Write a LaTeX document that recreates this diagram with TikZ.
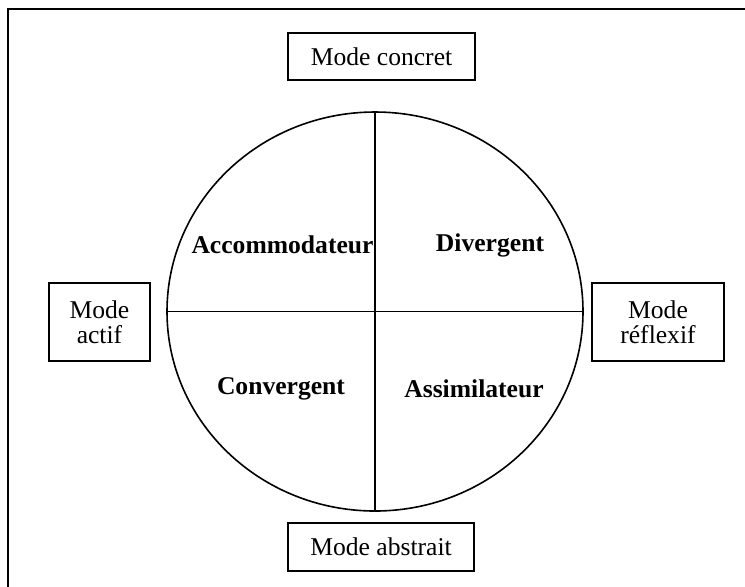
\documentclass[tikz,border=0pt]{standalone}
\usepackage{fontspec}
\setmainfont{Liberation Serif}
\usetikzlibrary{shapes.geometric, positioning}

\begin{document}
\begin{tikzpicture}[x=0.5pt, y=-0.5pt, semithick,
    font=\fontsize{12.8}{12.4}\selectfont,
    modebox/.style={draw, line width=0.9pt, align=center, inner sep=0pt},
    style/.style={font=\fontsize{12.8}{12.4}\selectfont\bfseries}]
  % Cadre
  \useasboundingbox (0,0) rectangle (745,586);
  \clip (0,0) rectangle (745,586);
  \draw[line width=1.1pt] (8,9) rectangle (760,600);

  % Cercle et axes
  \node[ellipse, draw, line width=0.8pt, minimum width=208pt, minimum height=199.5pt, inner sep=0pt] (cercle) at (375,311.5) {};
  \draw[line width=0.8pt] (cercle.north) -- (cercle.south);
  \draw[line width=0.8pt] (cercle.west) -- (cercle.east);

  % Modes
  \node[modebox, minimum width=93.5pt, minimum height=23.5pt] (concret) at (381.5,56.5) {Mode concret};
  \node[modebox, minimum width=93pt, minimum height=24pt] (abstrait) at (381,547) {Mode abstrait};
  \node[modebox, minimum width=50.5pt, minimum height=39pt] (actif) at (99.5,322) {Mode\\actif};
  \node[modebox, minimum width=66pt, minimum height=39pt] (reflexif) at (658,322) {Mode\\réflexif};

  % Styles
  \node[style] (accom) at (282.5,245) {Accommodateur};
  \node[style] (diverg) at (490,245) {Divergent};
  \node[style] (converg) at (281,389) {Convergent};
  \node[style] (assim) at (474,389) {Assimilateur};
\end{tikzpicture}
\end{document}
